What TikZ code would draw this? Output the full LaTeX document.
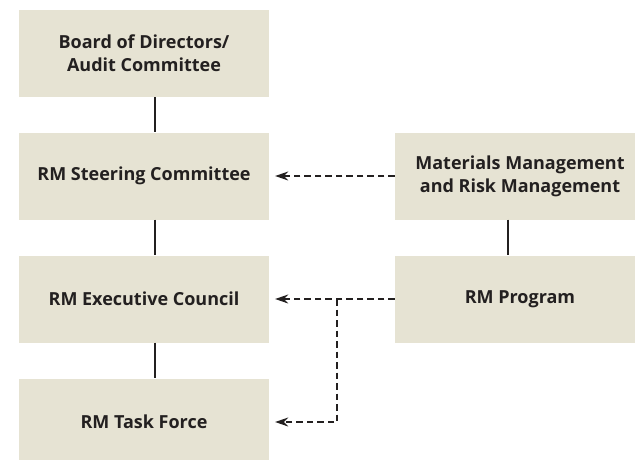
\documentclass[tikz,border=0pt]{standalone}
\usepackage{fontspec}
\setmainfont{Open Sans}
\usetikzlibrary{arrows.meta}
\definecolor{boxfill}{RGB}{230,227,211}
\definecolor{ink}{RGB}{35,32,32}
\tikzset{
  orgbox/.style={fill=boxfill, minimum width=250pt, minimum height=87pt,
    inner sep=0pt, align=center, text=ink, font=\bfseries\fontsize{18}{23}\selectfont},
  link/.style={draw=ink, line width=1.1pt},
  feed/.style={draw=ink, line width=1.1pt, dash pattern=on 6.5pt off 4pt, -{Stealth[length=13pt,width=9pt]}}
}
\begin{document}
\begin{tikzpicture}[x=1pt, y=-1pt]
  \useasboundingbox (0,0) rectangle (635,459);
  \begin{scope}
  \clip (0,0) rectangle (635,459);
  % left column
  \node[orgbox] (board) at (144,53.5) {Board of Directors/\\Audit Committee};
  \node[orgbox] (steer) at (144,176) {RM Steering Committee};
  \node[orgbox] (exec)  at (144,299) {RM Executive Council};
  \node[orgbox] (task)  at (144,422) {RM Task Force};
  % right column
  \node[orgbox] (mat)  at (520,176) {Materials Management\\and Risk Management};
  \node[orgbox] (prog) at (520,299) {RM Program};
  \end{scope}
  % solid links
  \draw[link] ([xshift=11pt]board.south) -- ([xshift=11pt]steer.north);
  \draw[link] ([xshift=11pt]steer.south) -- ([xshift=11pt]exec.north);
  \draw[link] ([xshift=11pt]exec.south) -- ([xshift=11pt]task.north);
  \draw[link] ([xshift=-12pt]mat.south) -- ([xshift=-12pt]prog.north);
  % dashed reporting lines
  \coordinate (fork) at (337,299);
  \draw[feed] (mat.west) -- ([xshift=6pt]steer.east);
  \draw[feed] (prog.west) -- ([xshift=6pt]exec.east);
  \draw[feed] (fork) |- ([xshift=6pt]task.east);
\end{tikzpicture}
\end{document}
